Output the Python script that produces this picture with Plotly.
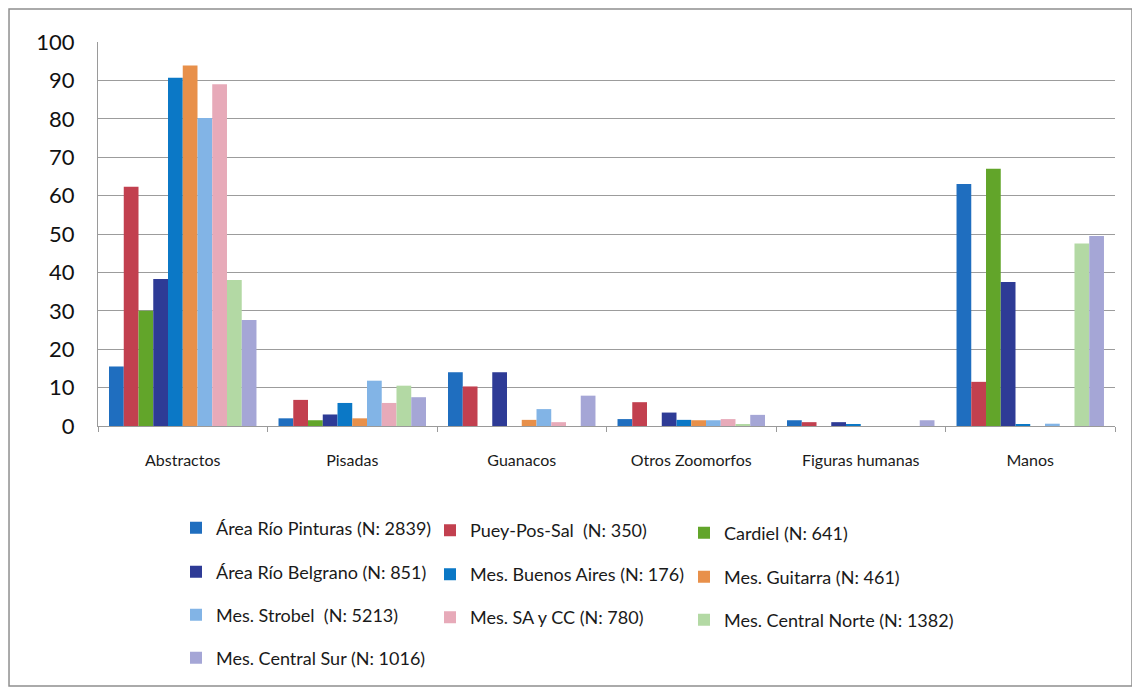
import plotly.graph_objects as go

# ── 数据 ──
categories = ["Abstractos", "Pisadas", "Guanacos", "Otros Zoomorfos",
              "Figuras humanas", "Manos"]

series_names = [
    "Área Río Pinturas (N: 2839)",
    "Puey-Pos-Sal  (N: 350)",
    "Cardiel (N: 641)",
    "Área Río Belgrano (N: 851)",
    "Mes. Buenos Aires (N: 176)",
    "Mes. Guitarra (N: 461)",
    "Mes. Strobel  (N: 5213)",
    "Mes. SA y CC (N: 780)",
    "Mes. Central Norte (N: 1382)",
    "Mes. Central Sur (N: 1016)",
]

rio_pinturas = [15.5, 2, 14, 1.8, 1.5, 63]
puey_pos_sal = [62.3, 6.8, 10.3, 6.2, 1, 11.5]
cardiel = [30, 1.5, 0, 0, 0, 67]
rio_belgrano = [38.3, 3, 14, 3.5, 1, 37.5]
buenos_aires = [90.7, 6, 0, 1.6, 0.5, 0.5]
guitarra = [93.9, 2, 1.6, 1.5, 0, 0]
strobel = [80.2, 11.8, 4.4, 1.5, 0, 0.6]
sa_y_cc = [89, 6, 1, 1.8, 0, 0]
central_norte = [38, 10.5, 0, 0.5, 0, 47.5]
central_sur = [27.6, 7.5, 7.9, 2.9, 1.5, 49.5]

values = [rio_pinturas, puey_pos_sal, cardiel, rio_belgrano, buenos_aires,
          guitarra, strobel, sa_y_cc, central_norte, central_sur]

colors = ["#1f6ebf", "#c2404f", "#62a52a", "#2e3b96", "#0b78c6",
          "#e8904a", "#82b4e6", "#e7aab9", "#b3d9a4", "#a5a6d6"]

FONT = "Lato, Open Sans, sans-serif"
W, H = 1132, 685

# 图例位置（像素，3 列 × 4 行）
legend_cols = [168, 422, 676]
legend_rows = [520, 564, 607, 650]

fig = go.Figure()

legends = {}
for i, (name, vals, color) in enumerate(zip(series_names, values, colors)):
    key = "legend" if i == 0 else f"legend{i + 1}"
    fig.add_trace(go.Bar(
        x=categories,
        y=vals,
        name=name,
        legend=key,
        marker=dict(color=color, line=dict(width=0)),
        hovertemplate="%{x}<br>" + name + ": %{y:.1f}<extra></extra>",
    ))
    px = legend_cols[i % 3]
    py = legend_rows[i // 3] + 0.01 * (px - legend_cols[0])
    legends[key] = dict(
        x=px / W, y=1 - py / H,
        xref="container", yref="container",
        xanchor="left", yanchor="middle",
        itemwidth=30,
        font=dict(size=18, family=FONT, color="#1a1a1a"),
        bgcolor="rgba(0,0,0,0)",
    )

# 图表外框
fig.add_shape(type="rect", xref="paper", yref="paper",
              x0=-0.0875, x1=1.0167, y0=-0.677, y1=1.086,
              line=dict(color="#8f8f8f", width=1.5),
              fillcolor="rgba(0,0,0,0)", layer="below")

fig.update_layout(
    width=W,
    height=H,
    paper_bgcolor="white",
    plot_bgcolor="white",
    font=dict(family=FONT, color="#222222"),
    margin=dict(l=90, r=25, t=34, b=267, autoexpand=False),
    barmode="group",
    bargap=0.13,
    bargroupgap=0,
    showlegend=True,
    xaxis=dict(
        type="category",
        showline=True,
        linecolor="#9a9a9a",
        linewidth=1,
        ticks="outside",
        tickson="boundaries",
        ticklen=5,
        tickcolor="#9a9a9a",
        ticklabelstandoff=20,
        tickangle=0,
        tickfont=dict(size=16, family=FONT, color="#1a1a1a"),
        showgrid=False,
    ),
    yaxis=dict(
        range=[0, 100],
        dtick=10,
        showline=True,
        linecolor="#9a9a9a",
        linewidth=1,
        gridcolor="#9c9c9c",
        gridwidth=1,
        zeroline=False,
        ticks="",
        ticklabelstandoff=18,
        tickfont=dict(size=22, family=FONT, color="#111111"),
    ),
    **legends,
)

fig.write_html("out.html")
